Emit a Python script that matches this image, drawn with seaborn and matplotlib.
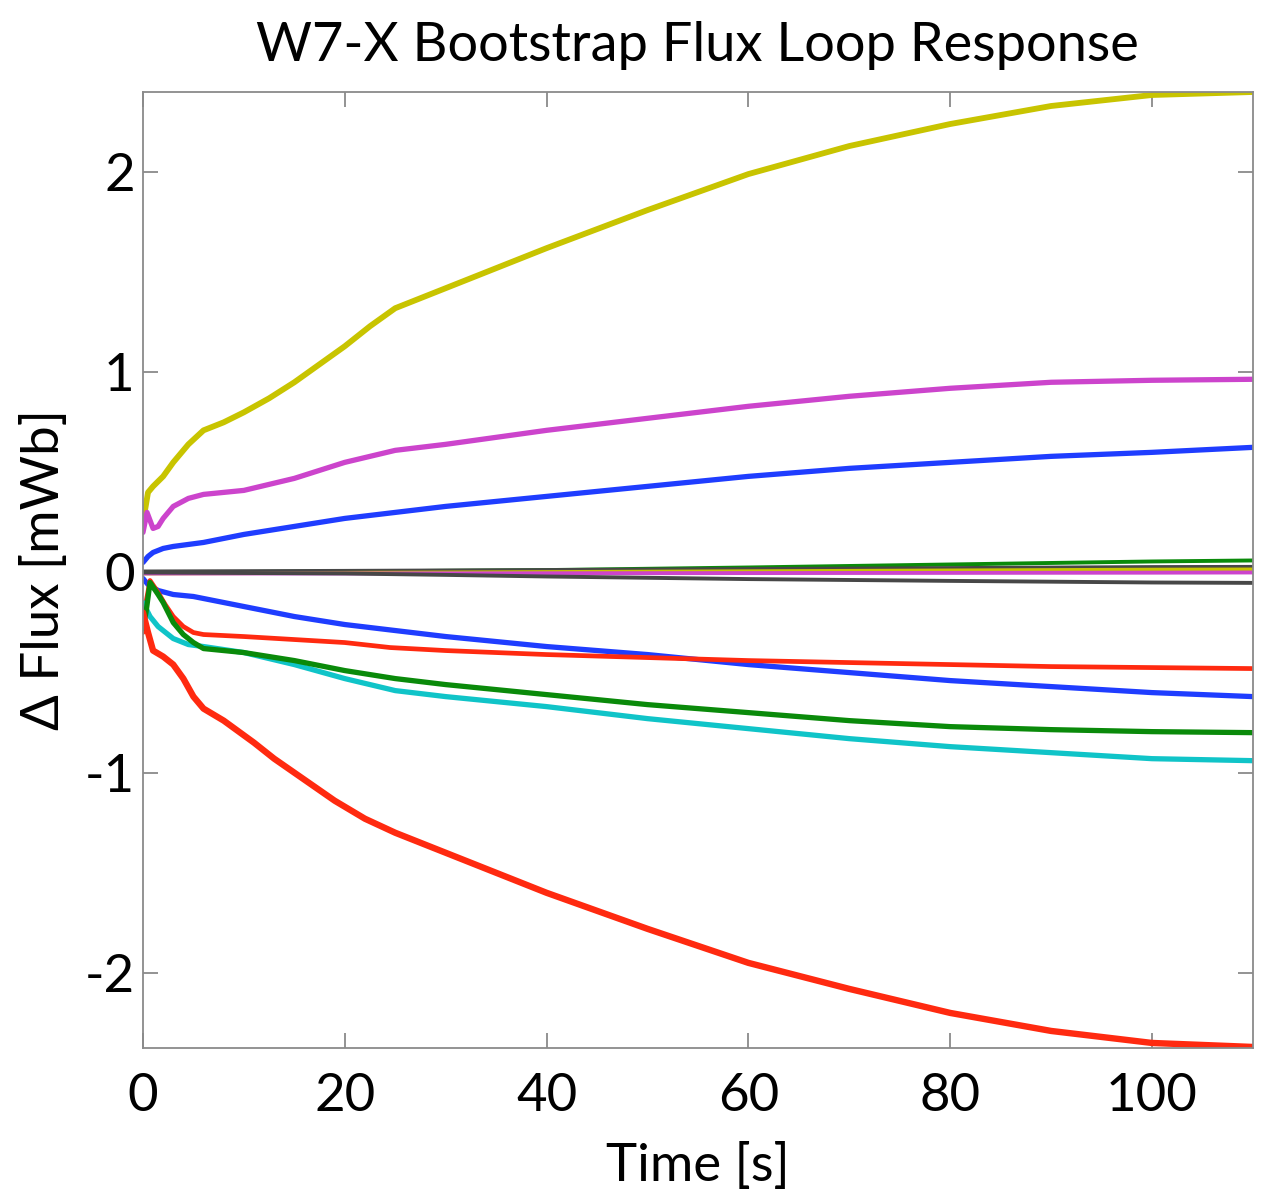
import matplotlib
matplotlib.use("Agg")
import matplotlib.pyplot as plt
import seaborn as sns
import pandas as pd

# Flux loop responses (mWb) versus time (s), one list pair per loop
t_yellow = [0, 0.5, 1, 2, 3, 4.5, 6, 8, 10, 12.5, 15, 17.5, 20, 22.5, 25, 30, 35, 40, 50, 60, 70, 80, 90, 100, 110]
f_yellow = [0.25, 0.40, 0.43, 0.48, 0.55, 0.64, 0.71, 0.75, 0.80, 0.87, 0.95, 1.04, 1.13, 1.23, 1.32, 1.42, 1.52, 1.62, 1.81, 1.99, 2.13, 2.24, 2.33, 2.385, 2.40]

t_magenta = [0, 0.4, 1, 1.5, 2, 3, 4.5, 6, 10, 15, 20, 25, 30, 40, 50, 60, 70, 80, 90, 100, 110]
f_magenta = [0.20, 0.30, 0.22, 0.23, 0.27, 0.33, 0.37, 0.39, 0.41, 0.47, 0.55, 0.61, 0.64, 0.71, 0.77, 0.83, 0.88, 0.92, 0.95, 0.96, 0.965]

t_blue_up = [0, 0.5, 1, 2, 3, 6, 10, 15, 20, 25, 30, 40, 50, 60, 70, 80, 90, 100, 110]
f_blue_up = [0.05, 0.08, 0.10, 0.12, 0.13, 0.15, 0.19, 0.23, 0.27, 0.30, 0.33, 0.38, 0.43, 0.48, 0.52, 0.55, 0.58, 0.60, 0.625]

t_green_zero = [0, 20, 40, 60, 80, 100, 110]
f_green_zero = [0.0, 0.005, 0.012, 0.025, 0.04, 0.055, 0.06]

t_grey_zero = [0, 20, 40, 60, 80, 100, 110]
f_grey_zero = [0.005, 0.008, 0.012, 0.017, 0.022, 0.027, 0.028]

t_yellow_zero = [0, 20, 40, 60, 80, 100, 110]
f_yellow_zero = [-0.005, -0.002, 0.002, 0.006, 0.01, 0.014, 0.015]

t_magenta_zero = [0, 20, 40, 60, 80, 100, 110]
f_magenta_zero = [-0.005, -0.005, -0.004, -0.003, -0.002, -0.001, 0.0]

t_grey_low = [0, 20, 30, 40, 60, 80, 100, 110]
f_grey_low = [0.0, -0.005, -0.012, -0.02, -0.033, -0.042, -0.05, -0.052]

t_blue_low = [0, 0.5, 1.5, 3, 5, 10, 15, 20, 25, 30, 40, 50, 60, 70, 80, 90, 100, 110]
f_blue_low = [-0.03, -0.06, -0.09, -0.11, -0.12, -0.17, -0.22, -0.26, -0.29, -0.32, -0.37, -0.41, -0.46, -0.50, -0.54, -0.57, -0.60, -0.62]

t_red_up = [0, 0.3, 0.7, 1.5, 2.2, 3, 4, 5, 6, 10, 15, 20, 24.5, 30, 40, 50, 60, 70, 80, 90, 100, 110]
f_red_up = [-0.30, -0.15, -0.04, -0.10, -0.16, -0.22, -0.27, -0.30, -0.31, -0.32, -0.335, -0.35, -0.375, -0.39, -0.41, -0.425, -0.44, -0.45, -0.46, -0.47, -0.475, -0.48]

t_green_low = [0, 0.3, 0.7, 1.5, 2, 3, 4, 5, 6, 10, 15, 20, 25, 30, 40, 50, 60, 70, 80, 90, 100, 110]
f_green_low = [-0.28, -0.20, -0.05, -0.11, -0.15, -0.25, -0.31, -0.35, -0.38, -0.40, -0.44, -0.49, -0.53, -0.56, -0.61, -0.66, -0.70, -0.74, -0.77, -0.785, -0.795, -0.80]

t_cyan = [0, 0.7, 1.5, 3, 4.5, 6, 10, 15, 20, 25, 30, 40, 50, 60, 70, 80, 90, 100, 110]
f_cyan = [-0.15, -0.22, -0.27, -0.33, -0.36, -0.37, -0.40, -0.46, -0.53, -0.59, -0.62, -0.67, -0.73, -0.78, -0.83, -0.87, -0.90, -0.93, -0.94]

t_red_low = [0, 0.5, 1, 2, 3, 4, 5, 6, 8, 11, 13, 15, 17, 19, 22, 25, 30, 40, 50, 60, 70, 80, 90, 100, 110]
f_red_low = [-0.20, -0.30, -0.39, -0.42, -0.46, -0.53, -0.62, -0.68, -0.74, -0.85, -0.93, -1.00, -1.07, -1.14, -1.23, -1.30, -1.40, -1.60, -1.78, -1.95, -2.08, -2.20, -2.29, -2.35, -2.37]

x_ticks = [0, 20, 40, 60, 80, 100]
y_ticks = [-2, -1, 0, 1, 2]
y_tick_labels = ["-2", "-1", "0", "1", "2"]

series = [
    (t_green_zero, f_green_zero, "#0a8a0a", 2.8),
    (t_grey_zero, f_grey_zero, "#474747", 2.8),
    (t_yellow_zero, f_yellow_zero, "#c8c400", 2.8),
    (t_magenta_zero, f_magenta_zero, "#cc44cc", 2.8),
    (t_grey_low, f_grey_low, "#474747", 2.8),
    (t_yellow, f_yellow, "#c8c400", 4.2),
    (t_magenta, f_magenta, "#cc44cc", 3.8),
    (t_blue_up, f_blue_up, "#1f3dff", 3.8),
    (t_blue_low, f_blue_low, "#1f3dff", 3.8),
    (t_red_up, f_red_up, "#ff2a10", 3.4),
    (t_cyan, f_cyan, "#10c4c8", 3.8),
    (t_green_low, f_green_low, "#0a8a0a", 3.8),
    (t_red_low, f_red_low, "#ff2a10", 4.6),
]

sns.set_theme(style="white")
plt.rcParams["font.family"] = ["Lato", "DejaVu Sans"]

fig = plt.figure(figsize=(12.63, 12.04), dpi=100)
ax = fig.add_axes([0.1132, 0.1296, 0.8788, 0.794])

for t, f, color, lw in series:
    df = pd.DataFrame({"Time": t, "Flux": f})
    sns.lineplot(data=df, x="Time", y="Flux", color=color, linewidth=lw,
                 estimator=None, sort=False, ax=ax)

ax.set_xlim(0, 110)
ax.set_ylim(-2.375, 2.40)
ax.set_xticks(x_ticks)
ax.set_xticklabels([str(v) for v in x_ticks])
ax.set_yticks(y_ticks)
ax.set_yticklabels(y_tick_labels)

for side in ["top", "right", "bottom", "left"]:
    ax.spines[side].set_visible(True)
    ax.spines[side].set_color("#8a8a8a")
    ax.spines[side].set_linewidth(1.3)

ax.tick_params(axis="both", which="major", direction="in", length=11, width=1.3,
               color="#8a8a8a", top=True, right=True, bottom=True, left=True,
               labelsize=38, labelcolor="black")
ax.tick_params(axis="x", pad=18)
ax.tick_params(axis="y", pad=6)

ax.set_xlabel("Time [s]", fontsize=38, labelpad=16, color="black")
ax.set_ylabel("Δ Flux [mWb]", fontsize=38, labelpad=12, color="black")
ax.set_title("W7-X Bootstrap Flux Loop Response", fontsize=39, pad=22, color="black")

fig.savefig("out.png", dpi=100, facecolor="white")
